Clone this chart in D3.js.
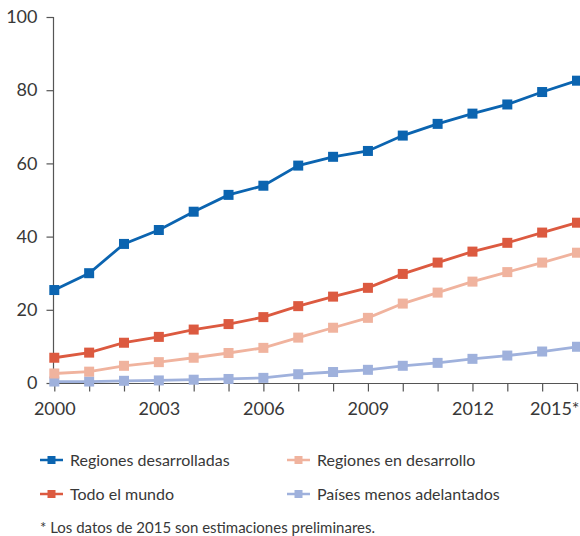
<!DOCTYPE html>
<html>
<head>
<meta charset="utf-8">
<script src="https://cdn.jsdelivr.net/npm/d3@7"></script>
<style>
html,body{margin:0;padding:0;background:#fff;}
svg{display:block;font-family:Lato,sans-serif;}
</style>
</head>
<body>
<svg id="chart" width="580" height="536"></svg>
<script>
const years = [2000,2001,2002,2003,2004,2005,2006,2007,2008,2009,2010,2011,2012,2013,2014,2015];
const desarrolladas = [25.4,30.0,38.0,41.8,46.8,51.4,53.9,59.4,61.8,63.4,67.6,70.8,73.6,76.1,79.5,82.6];
const mundo = [6.9,8.3,11.0,12.6,14.6,16.1,18.0,21.0,23.6,26.0,29.8,32.9,35.9,38.3,41.1,43.8];
const enDesarrollo = [2.6,3.1,4.7,5.7,6.9,8.2,9.6,12.4,15.1,17.8,21.7,24.7,27.7,30.3,32.9,35.6];
const menosAdelantados = [0.4,0.4,0.6,0.7,0.9,1.1,1.4,2.4,3.0,3.6,4.7,5.5,6.6,7.5,8.6,9.9];
const yTicks = [0,20,40,60,80,100];
const xTickLabels = {2000:"2000",2003:"2003",2006:"2006",2009:"2009",2012:"2012",2015:"2015*"};
const seriesNames = ["Regiones desarrolladas","Todo el mundo","Regiones en desarrollo","Países menos adelantados"];
const seriesColors = ["#0b64b0","#dc5a40","#f0b39e","#9fb1dc"];
const seriesValues = [desarrolladas, mundo, enDesarrollo, menosAdelantados];
const footnote = "* Los datos de 2015 son estimaciones preliminares.";

const svg = d3.select("#chart");
const x = d3.scaleLinear().domain([2000,2015]).range([54.3,577]);
const y = d3.scaleLinear().domain([0,100]).range([383,17]);
const textColor = "#383838";

// Y axis
const yAxis = svg.append("g").attr("transform","translate(53.5,0)")
  .call(d3.axisLeft(y).tickValues(yTicks).tickSize(7).tickPadding(9));
yAxis.select(".domain").attr("stroke","#555").attr("stroke-width",1.2).attr("d","M0,17V383");
yAxis.selectAll(".tick line").attr("stroke","#555").attr("stroke-width",1.2);
yAxis.selectAll(".tick text").attr("font-size",18).attr("fill",textColor).attr("font-family","Lato");

// X axis
const xAxis = svg.append("g").attr("transform","translate(0,383.5)")
  .call(d3.axisBottom(x).tickValues(years).tickSize(8).tickPadding(11)
    .tickFormat(d => xTickLabels[d] || ""));
xAxis.select(".domain").attr("stroke","#555").attr("stroke-width",1.2).attr("d","M54,0H577.5");
xAxis.selectAll(".tick line").attr("stroke","#555").attr("stroke-width",1.2);
xAxis.selectAll(".tick text").attr("font-size",18).attr("fill",textColor).attr("font-family","Lato");
xAxis.selectAll(".tick text").filter(d => d === 2015).attr("text-anchor","end").attr("dx","2");

// Series (draw lower series first)
const line = d3.line().x((d,i) => x(years[i])).y(d => y(d));
const order = [3,2,1,0];
order.forEach(si => {
  const g = svg.append("g");
  g.append("path").datum(seriesValues[si])
    .attr("d", line).attr("fill","none")
    .attr("stroke", seriesColors[si]).attr("stroke-width",2.8);
  g.selectAll("rect").data(seriesValues[si]).join("rect")
    .attr("x",(d,i) => x(years[i]) - 5).attr("y", d => y(d) - 5)
    .attr("width",10).attr("height",10).attr("fill",seriesColors[si]);
});

// Legend
const legendPos = [[40,460],[40,494],[287,460],[287,494]];
seriesNames.forEach((name,i) => {
  const [lx,ly] = legendPos[i];
  const g = svg.append("g");
  g.append("line").attr("x1",lx).attr("x2",lx+23).attr("y1",ly).attr("y2",ly)
    .attr("stroke",seriesColors[i]).attr("stroke-width",2.5);
  g.append("rect").attr("x",lx+7.5).attr("y",ly-4).attr("width",8).attr("height",8)
    .attr("fill",seriesColors[i]);
  g.append("text").attr("x",lx+30).attr("y",ly+6).text(name)
    .attr("font-size",16).attr("fill",textColor);
});

svg.append("text").attr("x",40).attr("y",533).text(footnote)
  .attr("font-size",15).attr("fill",textColor);
</script>
</body>
</html>
